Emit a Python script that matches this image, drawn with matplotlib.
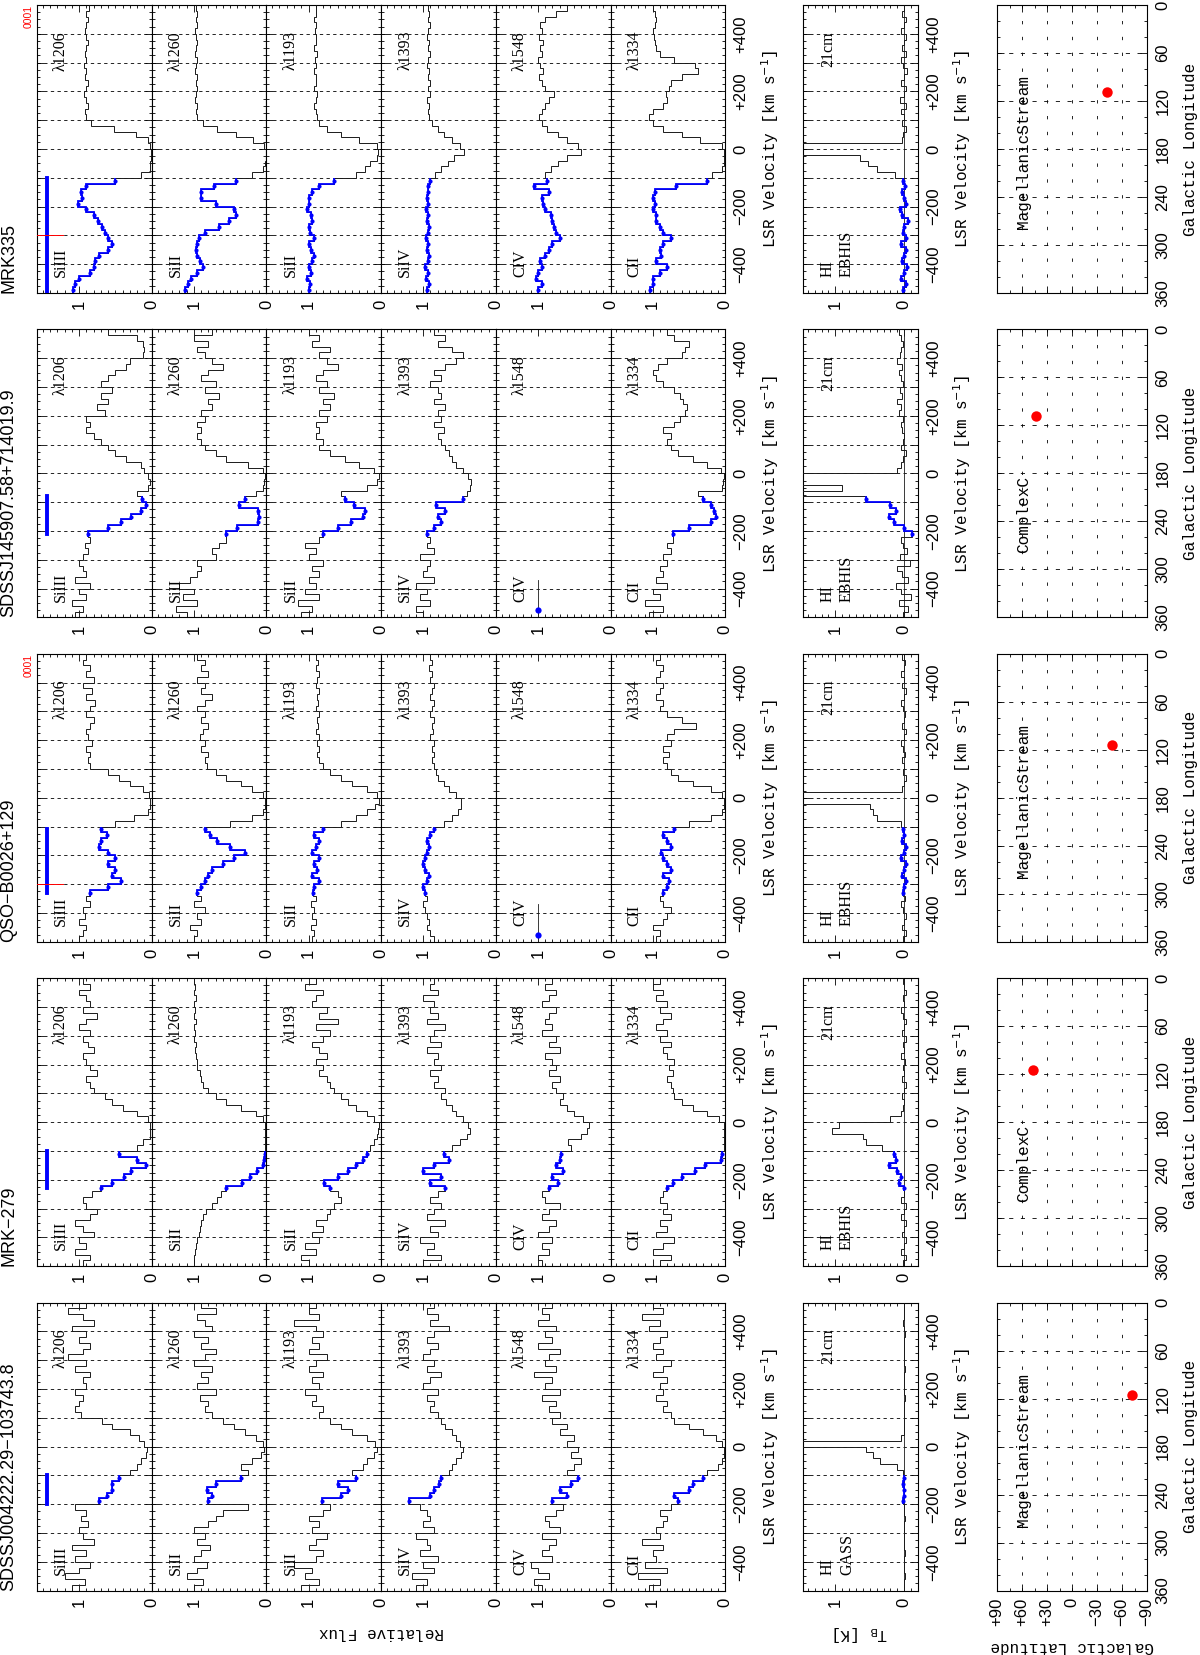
import numpy as np
import matplotlib
matplotlib.use("Agg")
import matplotlib.pyplot as plt
from matplotlib.ticker import MultipleLocator, FixedLocator, FixedFormatter, FuncFormatter

plt.rcParams['font.family'] = ['Liberation Sans', 'DejaVu Sans']

# velocity grid of the rebinned spectra (20 km/s bins)
vel = np.arange(-490, 491, 20)
edges = np.arange(-500, 501, 20)

targets = ['MRK335', 'SDSSJ145907.58+714019.9', 'QSO\u2212B0026+129',
           'MRK\u2212279', 'SDSSJ004222.29\u2212103743.8']
ions = ['SiIII', 'SiII', 'SiII', 'SiIV', 'CIV', 'CII']
waves = ['\u03bb1206', '\u03bb1260', '\u03bb1193', '\u03bb1393', '\u03bb1548', '\u03bb1334']
hvc_names = ['MagellanicStream', 'ComplexC', 'MagellanicStream', 'ComplexC', 'MagellanicStream']
hi_survey = ['EBHIS', 'EBHIS', 'EBHIS', 'EBHIS', 'GASS']
gal_l = [108.8, 108.8, 114.0, 115.0, 116.0]
gal_b = [-41.4, 43.5, -48.0, 47.0, -72.0]
win_lo = [-500, -210, -330, -230, -200]
win_hi = [-100, -80, -110, -100, -100]
red_mark = [-300, None, -300, None, None]   # red tick in SiIII panel
civ_stub_flux = [1.0, 1.0]                 # no CIV data: single point
civ_stub_vel = [-475, -370]

# ---- MRK335 ----
mrk335_siiii = [1.08, 1.05, 1.00, 0.85, 0.80, 0.78, 0.72, 0.60, 0.55, 0.60,
                0.64, 0.68, 0.74, 0.80, 0.90, 1.02, 0.96, 0.97, 0.90, 0.50,
                0.15, 0.03, 0.02, 0.01, 0.01, 0.02, 0.05, 0.22, 0.52, 0.84,
                0.90, 0.92, 0.88, 0.90, 0.93, 0.90, 0.88, 0.92, 0.90, 0.93,
                0.90, 0.92, 0.90, 0.88, 0.90, 0.92, 0.90, 0.88, 0.90, 0.86]
mrk335_siii1260 = [1.12, 1.08, 1.04, 0.95, 0.88, 0.92, 0.95, 0.97, 0.95, 0.93,
                   0.85, 0.65, 0.52, 0.42, 0.45, 0.70, 0.90, 0.90, 0.72, 0.42,
                   0.20, 0.04, 0.02, 0.01, 0.01, 0.03, 0.18, 0.42, 0.68, 0.88,
                   0.95, 0.97, 0.96, 0.98, 0.97, 0.95, 0.97, 0.96, 0.98, 0.97,
                   0.96, 0.98, 0.97, 0.95, 0.97, 0.98, 0.96, 0.97, 0.95, 0.97]
mrk335_siii1193 = [1.00, 0.98, 1.02, 0.97, 1.00, 0.95, 0.92, 0.96, 1.00, 0.93,
                   0.98, 1.00, 0.95, 0.97, 1.02, 1.00, 1.00, 0.95, 0.85, 0.65,
                   0.35, 0.22, 0.15, 0.05, 0.04, 0.05, 0.30, 0.55, 0.75, 0.85,
                   0.88, 0.90, 0.92, 0.90, 0.88, 0.92, 0.90, 0.89, 0.92, 0.90,
                   0.91, 0.88, 0.92, 0.90, 0.89, 0.91, 0.90, 0.92, 0.89, 0.90]
mrk335_siiv = [0.95, 0.92, 0.96, 0.93, 0.97, 0.94, 0.92, 0.95, 0.93, 0.96,
               0.94, 0.92, 0.95, 0.93, 0.96, 0.94, 0.95, 0.93, 0.94, 0.90,
               0.84, 0.76, 0.66, 0.58, 0.44, 0.50, 0.60, 0.72, 0.80, 0.88,
               0.92, 0.94, 0.92, 0.95, 0.90, 0.93, 0.91, 0.94, 0.92, 0.95,
               0.93, 0.90, 0.94, 0.92, 0.95, 0.93, 0.91, 0.94, 0.92, 0.93]
mrk335_civ = [1.00, 0.95, 1.02, 1.00, 0.95, 0.97, 0.90, 0.85, 0.80, 0.70,
              0.75, 0.78, 0.80, 0.82, 0.90, 0.93, 0.95, 0.85, 1.05, 0.88,
              0.90, 0.82, 0.72, 0.60, 0.40, 0.45, 0.60, 0.72, 0.88, 0.95,
              0.98, 0.95, 0.90, 0.85, 0.78, 0.90, 0.95, 0.98, 0.93, 0.97,
              1.00, 0.95, 0.97, 0.93, 0.98, 0.95, 0.97, 0.90, 0.75, 0.60]
mrk335_cii = [1.03, 1.00, 1.00, 0.90, 0.80, 0.95, 0.88, 0.90, 0.85, 0.75,
              0.85, 0.90, 0.95, 0.95, 1.00, 0.97, 1.00, 0.97, 0.68, 0.25,
              0.18, 0.05, 0.02, 0.02, 0.02, 0.05, 0.35, 0.60, 0.85, 1.00,
              1.05, 1.00, 0.85, 0.80, 0.82, 0.78, 0.75, 0.60, 0.37, 0.42,
              0.70, 0.90, 0.95, 0.97, 0.98, 1.00, 0.97, 0.95, 0.97, 1.00]
mrk335_hi = [0.02, -0.03, 0.05, 0.00, -0.04, 0.03, 0.01, -0.02, 0.04, -0.03,
             0.02, 0.00, -0.05, 0.03, 0.06, -0.02, 0.01, 0.03, -0.01, 0.02,
             0.14, 0.40, 0.53, 0.64, 5.00, 5.00, 0.03, 0.02, -0.02, 0.03,
             0.00, 0.04, -0.02, 0.06, 0.01, -0.03, 0.05, 0.00, -0.04, 0.02,
             0.05, -0.02, 0.03, 0.00, -0.03, 0.04, 0.01, -0.02, 0.03, 0.00]

# ---- SDSSJ145907.58+714019.9 ----
s1459_siiii = [1.05, 0.95, 1.10, 0.90, 1.00, 0.85, 1.05, 0.90, 0.95, 1.00,
               0.95, 0.88, 0.92, 0.85, 0.88, 0.60, 0.42, 0.28, 0.15, 0.08,
               0.13, 0.20, 0.05, 0.03, 0.05, 0.10, 0.15, 0.35, 0.50, 0.60,
               0.70, 0.80, 0.90, 0.85, 0.90, 0.65, 0.75, 0.60, 0.70, 0.55,
               0.70, 0.60, 0.50, 0.35, 0.30, 0.12, 0.10, 0.12, 0.20, 0.60]
s1459_siii1260 = [1.10, 1.25, 0.95, 1.15, 1.00, 1.20, 1.05, 0.95, 0.90, 0.95,
                  0.70, 0.75, 0.65, 0.55, 0.55, 0.40, 0.12, 0.10, 0.12, 0.38,
                  0.30, 0.15, 0.05, 0.03, 0.02, 0.05, 0.25, 0.55, 0.70, 0.85,
                  0.90, 0.95, 0.90, 0.95, 0.85, 0.90, 0.75, 0.80, 0.65, 0.85,
                  0.70, 0.90, 0.80, 0.60, 0.75, 0.85, 0.95, 0.80, 1.00, 0.75]
s1459_siii1193 = [1.10, 0.95, 1.15, 0.85, 1.05, 0.90, 1.00, 0.85, 0.95, 0.80,
                  1.00, 0.90, 1.05, 0.85, 0.80, 0.60, 0.42, 0.25, 0.22, 0.38,
                  0.50, 0.55, 0.20, 0.05, 0.03, 0.10, 0.30, 0.50, 0.70, 0.85,
                  0.80, 0.90, 0.85, 0.90, 0.75, 0.85, 0.70, 0.80, 0.65, 0.85,
                  0.75, 0.90, 0.80, 0.60, 0.75, 0.85, 0.70, 0.95, 0.85, 1.00]
s1459_siiv = [1.00, 1.10, 0.90, 1.05, 0.95, 1.10, 0.85, 1.00, 0.95, 0.90,
              1.05, 0.85, 0.95, 0.90, 0.95, 0.85, 0.75, 0.80, 0.70, 0.82,
              0.45, 0.40, 0.36, 0.34, 0.38, 0.45, 0.55, 0.60, 0.65, 0.70,
              0.75, 0.80, 0.72, 0.85, 0.75, 0.80, 0.70, 0.85, 0.75, 0.80,
              0.90, 0.75, 0.85, 0.70, 0.55, 0.45, 0.60, 0.80, 0.70, 0.85]
s1459_civ = None
s1459_cii = [1.05, 0.85, 1.10, 0.90, 1.00, 0.80, 0.95, 0.85, 0.90, 0.80,
             0.85, 0.75, 0.80, 0.72, 0.72, 0.50, 0.20, 0.13, 0.15, 0.20,
             0.30, 0.38, 0.05, 0.03, 0.02, 0.06, 0.25, 0.45, 0.65, 0.75,
             0.80, 0.75, 0.85, 0.70, 0.62, 0.55, 0.52, 0.58, 0.62, 0.70,
             0.85, 0.95, 1.00, 0.92, 0.80, 0.60, 0.55, 0.50, 0.70, 0.80]
s1459_hi = [0.02, -0.05, 0.08, -0.10, 0.05, 0.12, -0.06, 0.03, 0.10, -0.08,
            0.06, -0.04, 0.02, 0.05, -0.12, 0.00, 0.15, 0.22, 0.12, 0.20,
            0.55, 5.00, 0.90, 5.00, 5.00, 0.10, 0.05, 0.02, -0.02, 0.04,
            0.02, 0.00, 0.03, 0.05, 0.02, 0.08, 0.04, 0.10, 0.03, 0.06,
            0.02, 0.05, 0.08, 0.03, 0.10, 0.06, 0.04, 0.02, 0.05, 0.08]

# ---- QSO-B0026+129 ----
q0026_siiii = [1.00, 0.95, 0.90, 1.00, 0.92, 0.95, 0.85, 0.90, 0.85, 0.60,
               0.42, 0.55, 0.50, 0.60, 0.50, 0.60, 0.72, 0.70, 0.62, 0.70,
               0.50, 0.25, 0.05, 0.03, 0.02, 0.04, 0.12, 0.30, 0.45, 0.60,
               0.85, 0.88, 0.85, 0.90, 0.82, 0.88, 0.90, 0.85, 0.80, 0.90,
               0.85, 0.78, 0.90, 0.82, 0.95, 0.80, 0.90, 0.85, 0.95, 0.90]
q0026_siii1260 = [1.00, 0.95, 1.05, 0.90, 0.95, 0.85, 1.00, 0.90, 0.95, 0.90,
                  0.85, 0.80, 0.75, 0.60, 0.45, 0.30, 0.50, 0.68, 0.78, 0.85,
                  0.50, 0.20, 0.05, 0.02, 0.02, 0.05, 0.20, 0.35, 0.55, 0.70,
                  0.82, 0.85, 0.80, 0.90, 0.85, 0.92, 0.88, 0.80, 0.90, 0.85,
                  0.95, 0.85, 0.75, 0.90, 0.85, 0.95, 0.80, 0.90, 0.85, 0.95]
q0026_siii1193 = [0.95, 0.92, 0.97, 0.90, 0.95, 0.93, 0.96, 0.90, 0.94, 0.92,
                  0.85, 0.95, 0.88, 0.92, 0.85, 0.95, 0.90, 0.85, 0.92, 0.80,
                  0.55, 0.35, 0.20, 0.08, 0.03, 0.05, 0.20, 0.40, 0.55, 0.70,
                  0.80, 0.85, 0.88, 0.86, 0.88, 0.85, 0.90, 0.87, 0.88, 0.86,
                  0.90, 0.87, 0.88, 0.85, 0.90, 0.88, 0.86, 0.89, 0.87, 0.90]
q0026_siiv = [0.85, 0.90, 0.95, 0.92, 0.95, 0.97, 1.00, 0.95, 0.98, 1.00,
              0.95, 0.92, 0.97, 1.00, 0.97, 0.95, 0.92, 0.95, 0.90, 0.85,
              0.72, 0.60, 0.52, 0.48, 0.48, 0.55, 0.65, 0.72, 0.80, 0.82,
              0.85, 0.88, 0.85, 0.88, 0.85, 0.90, 0.87, 0.88, 0.85, 0.90,
              0.88, 0.85, 0.90, 0.88, 0.85, 0.90, 0.88, 0.92, 0.88, 0.90]
q0026_civ = None
q0026_cii = [0.95, 0.90, 1.00, 0.85, 0.80, 0.75, 0.85, 0.90, 0.85, 0.80,
             0.78, 0.85, 0.75, 0.80, 0.85, 0.88, 0.75, 0.80, 0.85, 0.70,
             0.50, 0.20, 0.05, 0.02, 0.02, 0.05, 0.20, 0.45, 0.65, 0.75,
             0.80, 0.85, 0.78, 0.85, 0.75, 0.80, 0.70, 0.40, 0.60, 0.80,
             0.90, 0.85, 0.95, 0.90, 0.85, 0.95, 0.90, 0.85, 0.95, 0.90]
q0026_hi = [0.02, -0.02, 0.03, 0.00, -0.03, 0.02, 0.04, -0.01, 0.02, 0.00,
            -0.03, 0.03, 0.01, -0.02, 0.04, 0.00, -0.02, 0.03, 0.01, 0.02,
            0.05, 0.40, 0.45, 0.50, 5.00, 5.00, 0.03, 0.01, -0.02, 0.02,
            0.00, 0.03, -0.01, 0.02, 0.04, 0.00, -0.02, 0.03, 0.01, -0.01,
            0.02, 0.04, 0.00, -0.02, 0.03, 0.01, 0.04, 0.00, -0.01, 0.03]

# ---- MRK-279 ----
m279_siiii = [0.95, 0.85, 1.05, 0.90, 1.00, 0.80, 0.95, 1.05, 0.85, 0.75,
              0.90, 0.95, 0.82, 0.70, 0.55, 0.38, 0.28, 0.08, 0.20, 0.45,
              0.20, 0.12, 0.03, 0.02, 0.02, 0.05, 0.20, 0.40, 0.55, 0.65,
              0.80, 0.85, 0.90, 0.75, 0.85, 0.90, 0.95, 0.80, 0.88, 0.95,
              0.85, 1.00, 0.90, 0.75, 0.95, 0.85, 0.90, 1.00, 0.85, 0.95]
m279_siii1260 = [1.00, 1.00, 0.98, 0.97, 0.95, 0.93, 0.92, 0.90, 0.87, 0.83,
                 0.75, 0.68, 0.62, 0.55, 0.34, 0.22, 0.13, 0.05, 0.03, 0.02,
                 0.02, 0.02, 0.02, 0.02, 0.02, 0.05, 0.15, 0.35, 0.55, 0.70,
                 0.80, 0.88, 0.90, 0.92, 0.95, 0.95, 0.97, 0.98, 0.97, 1.00,
                 0.98, 1.00, 0.97, 1.00, 0.98, 1.00, 0.97, 1.00, 0.98, 1.00]
m279_siii1193 = [1.00, 1.10, 0.90, 1.05, 0.85, 0.95, 0.80, 0.90, 0.75, 0.70,
                 0.65, 0.55, 0.60, 0.70, 0.78, 0.60, 0.45, 0.35, 0.25, 0.20,
                 0.15, 0.10, 0.05, 0.04, 0.03, 0.10, 0.20, 0.35, 0.45, 0.55,
                 0.65, 0.70, 0.75, 0.85, 0.80, 0.90, 0.75, 0.85, 0.95, 0.80,
                 0.70, 0.90, 0.60, 0.85, 0.75, 0.95, 0.90, 0.80, 1.05, 0.90]
m279_siiv = [1.00, 0.75, 0.95, 0.85, 1.05, 0.80, 0.90, 0.70, 0.95, 0.85,
             0.75, 0.90, 0.80, 0.70, 0.90, 0.75, 1.00, 0.85, 0.65, 0.72,
             0.60, 0.50, 0.40, 0.35, 0.38, 0.45, 0.55, 0.60, 0.68, 0.75,
             0.70, 0.85, 0.80, 0.90, 0.75, 0.85, 0.80, 0.95, 0.75, 0.90,
             0.85, 0.70, 0.95, 0.80, 0.90, 0.85, 1.00, 0.80, 0.90, 0.85]
m279_civ = [0.95, 1.00, 0.85, 0.95, 0.80, 1.00, 0.85, 0.75, 0.95, 0.85,
            0.70, 0.90, 0.95, 0.85, 0.72, 0.80, 0.65, 0.75, 0.70, 0.68,
            0.55, 0.58, 0.40, 0.32, 0.30, 0.38, 0.50, 0.60, 0.70, 0.65,
            0.75, 0.80, 0.70, 0.85, 0.75, 0.80, 0.90, 0.70, 0.85, 0.75,
            0.95, 0.80, 0.90, 0.85, 0.75, 0.95, 0.85, 0.75, 0.90, 0.80]
m279_cii = [0.90, 0.75, 1.00, 0.85, 0.70, 0.95, 0.80, 0.90, 0.75, 0.85,
            0.80, 0.90, 0.85, 0.80, 0.72, 0.60, 0.42, 0.28, 0.06, 0.04,
            0.02, 0.02, 0.02, 0.02, 0.02, 0.08, 0.25, 0.45, 0.60, 0.70,
            0.72, 0.75, 0.80, 0.72, 0.78, 0.70, 0.80, 0.85, 0.75, 0.90,
            0.80, 0.95, 0.85, 0.75, 0.90, 0.80, 0.95, 0.85, 1.00, 0.90]
m279_hi = [0.02, -0.02, 0.04, 0.00, -0.03, 0.03, 0.01, -0.02, 0.05, 0.00,
           -0.03, 0.04, 0.00, 0.00, 0.08, 0.05, 0.10, 0.22, 0.12, 0.15,
           0.33, 0.55, 0.60, 1.05, 0.95, 0.20, 0.05, 0.02, 0.00, 0.03,
           0.01, -0.02, 0.03, 0.00, 0.02, -0.01, 0.04, 0.00, 0.02, -0.02,
           0.03, 0.00, -0.02, 0.02, 0.04, 0.00, 0.02, -0.03, 0.01, 0.02]

# ---- SDSSJ004222.29-103743.8 ----
s0042_siiii = [1.10, 0.92, 1.20, 1.00, 0.85, 1.05, 0.90, 1.10, 0.80, 0.95,
               1.00, 0.88, 0.98, 0.90, 1.05, 0.72, 0.62, 0.55, 0.55, 0.45,
               0.30, 0.20, 0.15, 0.08, 0.06, 0.10, 0.18, 0.30, 0.55, 0.68,
               0.98, 1.05, 1.00, 0.95, 1.05, 0.90, 0.95, 0.85, 1.05, 0.90,
               1.15, 0.95, 0.85, 1.00, 0.90, 1.10, 0.80, 0.95, 1.15, 0.90]
s0042_siii1260 = [1.00, 0.88, 1.10, 0.95, 0.82, 1.00, 0.90, 0.78, 0.95, 0.85,
                  1.00, 0.80, 0.70, 0.60, 0.25, 0.80, 0.75, 0.82, 0.70, 0.35,
                  0.25, 0.35, 0.20, 0.08, 0.03, 0.05, 0.15, 0.30, 0.45, 0.60,
                  0.75, 0.85, 0.80, 0.92, 0.70, 0.95, 0.80, 0.90, 0.75, 1.00,
                  0.85, 0.70, 0.90, 0.80, 1.00, 0.75, 0.85, 0.95, 0.70, 0.90]
s0042_siii1193 = [1.10, 0.85, 1.05, 0.95, 1.20, 0.90, 0.80, 1.00, 0.90, 0.75,
                  0.95, 0.85, 1.00, 0.80, 0.70, 0.82, 0.55, 0.45, 0.60, 0.35,
                  0.40, 0.25, 0.20, 0.10, 0.05, 0.08, 0.20, 0.40, 0.55, 0.70,
                  0.85, 0.80, 0.95, 0.90, 1.05, 0.85, 0.95, 0.80, 1.00, 0.90,
                  0.75, 1.00, 0.85, 0.95, 0.80, 0.90, 1.20, 0.85, 1.00, 0.90]
s0042_siiv = [1.10, 0.95, 1.15, 0.85, 1.00, 0.80, 1.05, 0.90, 0.95, 1.10,
              0.85, 1.00, 0.90, 0.95, 1.05, 1.20, 0.90, 0.85, 0.78, 0.75,
              0.65, 0.60, 0.55, 0.48, 0.45, 0.50, 0.55, 0.60, 0.70, 0.75,
              0.80, 0.90, 0.85, 0.95, 0.80, 1.00, 0.90, 0.75, 0.95, 0.85,
              1.00, 0.90, 0.80, 0.95, 0.85, 0.65, 0.90, 0.80, 0.95, 0.85]
s0042_civ = [0.95, 1.05, 0.85, 1.00, 1.10, 0.80, 0.95, 0.85, 0.75, 0.95,
             0.70, 0.85, 0.90, 0.75, 0.65, 0.80, 0.60, 0.70, 0.55, 0.45,
             0.60, 0.50, 0.40, 0.55, 0.45, 0.60, 0.50, 0.70, 0.60, 0.80,
             0.70, 0.85, 0.75, 0.95, 0.70, 0.90, 0.80, 1.05, 0.75, 0.90,
             0.85, 0.70, 1.00, 0.80, 0.90, 0.75, 1.00, 0.85, 0.95, 0.80]
s0042_cii = [1.05, 0.90, 1.20, 0.80, 1.10, 0.95, 1.00, 0.85, 1.15, 0.90,
             0.95, 0.85, 0.80, 0.90, 0.75, 0.65, 0.70, 0.50, 0.45, 0.30,
             0.25, 0.10, 0.04, 0.02, 0.02, 0.05, 0.12, 0.30, 0.50, 0.70,
             0.75, 0.85, 0.80, 0.95, 0.85, 0.90, 0.80, 1.00, 0.85, 0.75,
             0.95, 0.85, 1.00, 0.90, 0.80, 1.05, 0.90, 1.15, 0.85, 1.00]
s0042_hi = [0.00, 0.01, -0.01, 0.00, 0.01, 0.00, -0.01, 0.01, 0.00, 0.00,
            0.01, 0.00, -0.01, 0.01, 0.00, 0.02, 0.00, 0.01, 0.02, 0.01,
            0.02, 0.10, 0.35, 0.45, 0.55, 5.00, 0.05, 0.01, 0.00, 0.01,
            0.00, 0.01, 0.00, -0.01, 0.01, 0.00, 0.01, 0.00, -0.01, 0.00,
            0.01, 0.00, 0.01, 0.00, -0.01, 0.01, 0.02, 0.00, 0.01, 0.00]

spectra = [
    [mrk335_siiii, mrk335_siii1260, mrk335_siii1193, mrk335_siiv, mrk335_civ, mrk335_cii],
    [s1459_siiii, s1459_siii1260, s1459_siii1193, s1459_siiv, s1459_civ, s1459_cii],
    [q0026_siiii, q0026_siii1260, q0026_siii1193, q0026_siiv, q0026_civ, q0026_cii],
    [m279_siiii, m279_siii1260, m279_siii1193, m279_siiv, m279_civ, m279_cii],
    [s0042_siiii, s0042_siii1260, s0042_siii1193, s0042_siiv, s0042_civ, s0042_cii],
]
hi_spectra = [mrk335_hi, s1459_hi, q0026_hi, m279_hi, s0042_hi]

# ---- layout (pixels) ----
W, H = 1200, 1655
FLUX_MAX = 1.58
TB_LIM = (1.47, -0.2)
spec_x0, spec_w = 37, 114.7
hi_x0, hi_w = 803, 115
sky_x0, sky_w = 997, 150
panel_h = 288
strip_top = [5 + 324.4 * k for k in range(5)]

SERIF = 'Liberation Serif'
MONO = 'Liberation Mono'
LINE = '#1a1a1a'


def vel_fmt(v, pos):
    if abs(v) % 200 != 0:
        return ''
    if v == 0:
        return '0'
    return '+%d' % v if v > 0 else '\u2212%d' % -v


def dress(ax):
    ax.tick_params(which='both', direction='in', top=True, right=True,
                   width=0.6, labelsize=12, labelrotation=90)
    ax.tick_params(which='major', length=5)
    ax.tick_params(which='minor', length=2.5)
    ax.tick_params(axis='x', pad=5)
    ax.tick_params(axis='y', pad=6, labelleft=False)
    for sp in ax.spines.values():
        sp.set_linewidth(0.8)


def vel_axis(ax, labels):
    ax.set_ylim(-500, 500)
    ax.yaxis.set_major_locator(MultipleLocator(100))
    ax.yaxis.set_minor_locator(MultipleLocator(25))
    ax.yaxis.set_major_formatter(FuncFormatter(vel_fmt))
    ax.tick_params(axis='y', labelright=labels)
    for v in range(-400, 401, 100):
        ax.axhline(v, color='k', lw=0.6, ls=(0, (4, 4)), zorder=1)


def axes_at(x0, w, top):
    return fig.add_axes([x0 / W, 1 - (top + panel_h) / H, w / W, panel_h / H])


fig = plt.figure(figsize=(W / 100, H / 100), dpi=100)

for k, name in enumerate(targets):
    top = strip_top[k]
    ymid = 1 - (top + panel_h / 2) / H
    sel = (vel >= win_lo[k]) & (vel <= win_hi[k])
    sel_edges = np.append(edges[:-1][sel], edges[1:][sel][-1])

    fig.text(9 / W, 1 - (top + panel_h) / H, name, rotation=90, ha='center',
             va='bottom', fontsize=13)

    for j in range(6):
        ax = axes_at(spec_x0 + spec_w * j, spec_w, top)
        dress(ax)
        ax.set_xlim(FLUX_MAX, 0)
        ax.xaxis.set_major_locator(FixedLocator([0, 1]))
        ax.xaxis.set_major_formatter(FixedFormatter(['0', '1']))
        ax.xaxis.set_minor_locator(MultipleLocator(0.1))
        vel_axis(ax, j == 5)
        flux = spectra[k][j]
        if flux is not None:
            f = np.array(flux)
            ax.stairs(f, edges, orientation='horizontal', baseline=None,
                      color=LINE, lw=0.7, zorder=3)
            ax.stairs(f[sel], sel_edges, orientation='horizontal', baseline=None,
                      color='blue', lw=1.3, zorder=4)
            ax.plot(f[sel], vel[sel], 'o', color='blue', ms=3, mec='none', zorder=5)
        else:
            ax.plot(civ_stub_flux, civ_stub_vel, color=LINE, lw=0.6, zorder=3)
            ax.plot(civ_stub_flux[:1], civ_stub_vel[:1], 'o', color='blue',
                    ms=4.5, mec='none', zorder=5)
        tr = ax.get_yaxis_transform()
        ax.text(0.21, -445, ions[j], transform=tr, rotation=90, ha='center',
                va='bottom', fontsize=11.5, family=SERIF)
        ax.text(0.21, 410, waves[j], transform=tr, rotation=90, ha='center',
                va='top', fontsize=11.5, family=SERIF)
        if j == 0:
            ax.plot([1.44, 1.44], [win_lo[k], win_hi[k]], color='blue', lw=2.8,
                    zorder=5)
            if red_mark[k] is not None:
                ax.axhline(red_mark[k], 0, 0.23, color='red', lw=0.7, zorder=6)
                ax.text(-0.03, 1.0, '0001', transform=ax.transAxes, rotation=90,
                        ha='right', va='top', color='red', fontsize=7.5)

    fig.text(770 / W, ymid, 'LSR Velocity [km s$^{-1}$]', rotation=90,
             ha='center', va='center', fontsize=11.5, family=MONO)

    # 21cm panel
    ax = axes_at(hi_x0, hi_w, top)
    dress(ax)
    ax.set_xlim(*TB_LIM)
    ax.xaxis.set_major_locator(FixedLocator([0, 1]))
    ax.xaxis.set_major_formatter(FixedFormatter(['0', '1']))
    ax.xaxis.set_minor_locator(MultipleLocator(0.1))
    vel_axis(ax, True)
    ax.axvline(0, color=LINE, lw=0.6, zorder=2)
    t = np.array(hi_spectra[k])
    ax.stairs(t, edges, orientation='horizontal', baseline=None, color=LINE,
              lw=0.7, zorder=3)
    ax.stairs(t[sel], sel_edges, orientation='horizontal', baseline=None,
              color='blue', lw=1.3, zorder=4)
    ax.plot(t[sel], vel[sel], 'o', color='blue', ms=3, mec='none', zorder=5)
    tr = ax.get_yaxis_transform()
    ax.text(0.217, -445, 'HI', transform=tr, rotation=90, ha='center',
            va='bottom', fontsize=11.5, family=SERIF)
    ax.text(0.383, -445, hi_survey[k], transform=tr, rotation=90, ha='center',
            va='bottom', fontsize=11.5, family=SERIF)
    ax.text(0.217, 410, '21cm', transform=tr, rotation=90, ha='center',
            va='top', fontsize=11.5, family=SERIF)
    fig.text(962 / W, ymid, 'LSR Velocity [km s$^{-1}$]', rotation=90,
             ha='center', va='center', fontsize=11.5, family=MONO)

    # sky position panel
    ax = axes_at(sky_x0, sky_w, top)
    dress(ax)
    ax.set_xlim(90, -90)
    ax.set_ylim(360, 0)
    ax.xaxis.set_major_locator(FixedLocator([90, 60, 30, 0, -30, -60, -90]))
    ax.xaxis.set_major_formatter(FixedFormatter(
        ['+90', '+60', '+30', '0', '\u221230', '\u221260', '\u221290']))
    ax.xaxis.set_minor_locator(MultipleLocator(15))
    ax.yaxis.set_major_locator(MultipleLocator(60))
    ax.yaxis.set_minor_locator(MultipleLocator(20))
    ax.tick_params(axis='x', labelbottom=(k == 4))
    ax.tick_params(axis='y', labelright=True)
    for b in (-60, -30, 0, 30, 60):
        ax.axvline(b, color='k', lw=0.6, ls=(0, (4, 15)), zorder=1)
    for l in (60, 120, 180, 240, 300):
        ax.axhline(l, color='k', lw=0.6, ls=(0, (5, 9)), zorder=1)
    ax.plot(gal_b[k], gal_l[k], 'o', color='red', ms=7.5, mec='none', zorder=5)
    ax.text(58, 280, hvc_names[k], rotation=90, ha='center', va='bottom',
            fontsize=11.5, family=MONO)
    fig.text(1190 / W, ymid, 'Galactic Longitude', rotation=90, ha='center',
             va='center', fontsize=11.5, family=MONO)

    for a in fig.axes[-8:]:
        for lab in a.get_yticklabels():
            lab.set_verticalalignment('center')

# axis titles along the bottom edge (upside down, as in the rotated page)
fig.text(381 / W, 1 - 1633 / H, 'Relative Flux', rotation=180, ha='center',
         va='center', fontsize=11.5, family=MONO)
fig.text(860 / W, 1 - 1634 / H, 'T$_{\\rm B}$ [K]', rotation=180, ha='center',
         va='center', fontsize=11.5, family=MONO)
fig.text(1072 / W, 1 - 1647 / H, 'Galactic Latitude', rotation=180,
         ha='center', va='center', fontsize=11.5, family=MONO)

fig.savefig('out.png', dpi=100)
